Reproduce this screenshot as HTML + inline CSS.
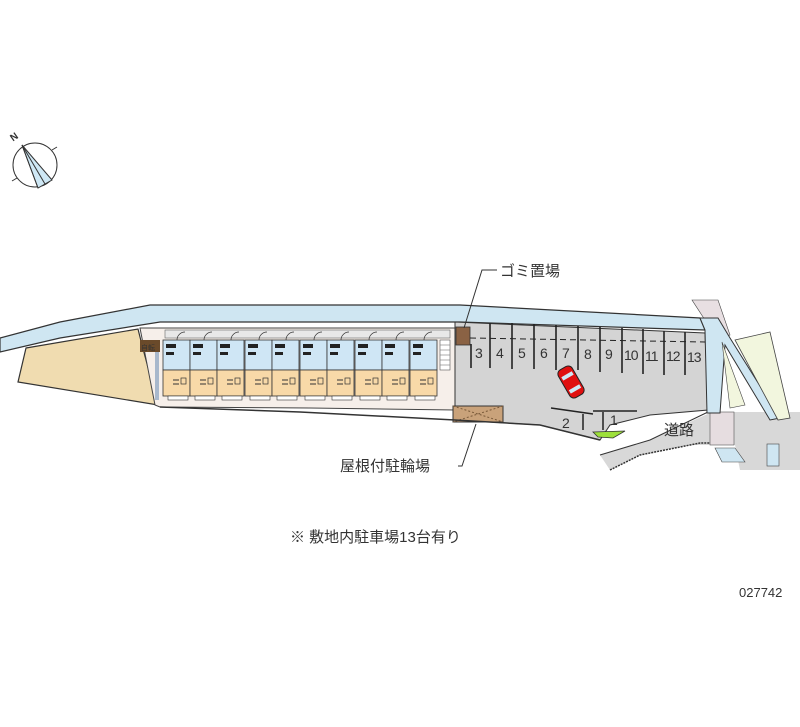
<!DOCTYPE html>
<html><head><meta charset="utf-8"><style>
html,body{margin:0;padding:0;background:#fff;}
svg{display:block;}
text{font-family:"Liberation Sans","Noto Sans CJK JP",sans-serif;fill:#333;}
</style></head><body>
<svg width="800" height="727" viewBox="0 0 800 727" xmlns="http://www.w3.org/2000/svg">
<!-- compass -->
<g stroke="#333" fill="none" stroke-width="1">
<circle cx="35" cy="165" r="22"/>
<polygon points="22,145 52,180 38,188" fill="#cfe8f5"/>
<line x1="22" y1="145" x2="38" y2="188"/>
<line x1="22" y1="145" x2="45" y2="184"/>
<line x1="12" y1="181" x2="17" y2="178"/><line x1="52" y1="150" x2="57" y2="147"/>
</g>
<text x="10" y="140" font-size="10" font-weight="bold" transform="rotate(-35 14 136)">N</text>

<!-- road (behind) -->
<polygon points="600,455 650,440 712,412 800,412 800,470 740,470 735,445 690,445 640,455 610,470" fill="#d8d8d8"/>

<!-- left canal -->
<polygon points="0,338 60,322 150,305 460,305 700,318 705,330 460,322 160,322 60,338 0,352" fill="#cfe6f2" stroke="#333" stroke-width="1.2"/>
<!-- sand area -->
<polygon points="26,348 138,329 142,345 158,405 18,382" fill="#f0dcb0" stroke="#333" stroke-width="1.2"/>
<!-- building plot -->
<polygon points="140,328 455,328 455,410 310,408 160,407 155,405" fill="#f6efea" stroke="#444"/>
<rect x="165" y="330" width="285" height="8" fill="#e8e8e8" stroke="#666" stroke-width="0.6"/>
<rect x="140" y="340" width="20" height="12" fill="#6a4a2a"/>
<text x="141" y="350" font-size="7" fill="#fff">自転</text>
<rect x="155" y="352" width="4" height="48" fill="#a8b8cc"/>
<!-- stairs -->
<rect x="440" y="340" width="10" height="30" fill="#fff" stroke="#555" stroke-width="0.6"/>
<g stroke="#777" stroke-width="0.6"><line x1="440" y1="345" x2="450" y2="345"/><line x1="440" y1="350" x2="450" y2="350"/><line x1="440" y1="355" x2="450" y2="355"/><line x1="440" y1="360" x2="450" y2="360"/><line x1="440" y1="365" x2="450" y2="365"/></g>

<!-- parking lot -->
<polygon points="455,322 705,333 708,410 650,415 610,425 600,440 540,425 455,420" fill="#d4d4d4" stroke="#333" stroke-width="1"/>
<rect x="456" y="327" width="14" height="18" fill="#8a6244" stroke="#333" stroke-width="0.8"/>
<g stroke="#222" stroke-width="1.6">
<line x1="471" y1="344" x2="471" y2="368"/>
<line x1="490" y1="323" x2="490" y2="368"/>
<line x1="512" y1="323" x2="512" y2="369"/>
<line x1="534" y1="324" x2="534" y2="369"/>
<line x1="556" y1="325" x2="556" y2="370"/>
<line x1="578" y1="326" x2="578" y2="370"/>
<line x1="600" y1="327" x2="600" y2="372"/>
<line x1="622" y1="328" x2="622" y2="373"/>
<line x1="643" y1="329" x2="643" y2="374"/>
<line x1="664" y1="331" x2="664" y2="375"/>
<line x1="685" y1="332" x2="685" y2="375"/>
</g>
<line x1="470" y1="338" x2="705" y2="342" stroke="#222" stroke-width="1" stroke-dasharray="6,4"/>
<g font-size="14">
<text x="475" y="358">3</text><text x="496" y="358">4</text><text x="518" y="358">5</text><text x="540" y="358">6</text><text x="562" y="358">7</text><text x="584" y="359">8</text><text x="605" y="359">9</text><text x="624" y="360" letter-spacing="-1">10</text><text x="645" y="361" letter-spacing="-1">11</text><text x="666" y="361" letter-spacing="-1">12</text><text x="687" y="362" letter-spacing="-1">13</text>
</g>
<!-- car -->
<g transform="rotate(-30 571 382)">
<rect x="563" y="366" width="16" height="32" rx="5" fill="#e01010" stroke="#222"/>
<rect x="565" y="373" width="12" height="4" fill="#cfe8f5"/>
<rect x="565" y="388" width="12" height="4" fill="#cfe8f5"/>
</g>
<!-- spots 1,2 -->
<g stroke="#222" stroke-width="1.5">
<line x1="551" y1="408" x2="593" y2="414"/>
<line x1="593" y1="411" x2="637" y2="411"/>
<line x1="583" y1="414" x2="583" y2="430"/>
<line x1="603" y1="412" x2="603" y2="430"/>
</g>
<text x="562" y="428" font-size="14">2</text>
<text x="610" y="425" font-size="14">1</text>
<polygon points="593,432 625,431 613,438 598,437" fill="#9de03a" stroke="#333" stroke-width="0.8"/>
<!-- bike shelter -->
<rect x="453" y="406" width="50" height="16" fill="#c9a27a" stroke="#333"/>
<line x1="453" y1="406" x2="503" y2="422" stroke="#7a5a3a" stroke-dasharray="2,2"/>
<line x1="503" y1="406" x2="453" y2="422" stroke="#7a5a3a" stroke-dasharray="2,2"/>
<!-- lower edge line -->
<polyline points="160,407 300,412 455,420 540,425 600,440" fill="none" stroke="#333" stroke-width="1.5"/>

<!-- road edges -->
<polyline points="610,470 640,455 700,443 712,443" fill="none" stroke="#333" stroke-width="1.5" stroke-dasharray="2,1"/>
<polyline points="600,455 650,440 708,412" fill="none" stroke="#333"/>
<rect x="710" y="412" width="24" height="33" fill="#e6dde0" stroke="#555" stroke-width="0.6"/>
<text x="664" y="435" font-size="15">道路</text>
<!-- right canal & paths -->
<polygon points="692,300 718,300 730,335 718,340" fill="#e8dfe2" stroke="#444" stroke-width="0.6"/>
<polygon points="700,318 718,318 730,338 780,418 770,420 725,345 720,413 707,413 705,330" fill="#cfe6f2" stroke="#333" stroke-width="1"/>
<polygon points="722,342 745,405 730,408" fill="#f2f6de" stroke="#444" stroke-width="0.6"/>
<polygon points="735,340 770,332 790,418 778,420" fill="#f2f6de" stroke="#444" stroke-width="0.8"/>
<polygon points="715,448 735,448 745,462 722,462" fill="#cfe6f2" stroke="#444" stroke-width="0.6"/>
<rect x="767" y="444" width="12" height="22" fill="#cfe6f2" stroke="#444" stroke-width="0.6"/>

<!-- labels -->
<polyline points="497,270 482,270 464,328" fill="none" stroke="#333"/>
<text x="500" y="276" font-size="15">ゴミ置場</text>
<polyline points="458,466 462,466 476,424" fill="none" stroke="#333"/>
<text x="340" y="471" font-size="15">屋根付駐輪場</text>
<text x="290" y="542" font-size="15">※ 敷地内駐車場13台有り</text>
<text x="739" y="597" font-size="13">027742</text>

<g>
<defs>
<g id="u">
<rect x="0" y="340" width="27" height="30" fill="#cfe6f5" stroke="#333" stroke-width="0.8"/>
<rect x="0" y="370" width="27" height="26" fill="#f8d9a8" stroke="#333" stroke-width="0.8"/>
<rect x="3" y="344" width="10" height="4" fill="#222"/>
<rect x="3" y="352" width="8" height="3" fill="#222"/>
<path d="M14 340 a8 8 0 0 1 8 -8" fill="none" stroke="#333" stroke-width="0.7"/>
<line x1="10" y1="380" x2="16" y2="380" stroke="#333"/>
<line x1="10" y1="384" x2="16" y2="384" stroke="#333"/>
<rect x="18" y="378" width="5" height="6" fill="none" stroke="#333" stroke-width="0.7"/>
<rect x="5" y="396" width="20" height="4" fill="#fff" stroke="#333" stroke-width="0.6"/>
</g>
</defs>
<use href="#u" x="163"/><use href="#u" x="190"/><use href="#u" x="217"/><use href="#u" x="245"/><use href="#u" x="272"/><use href="#u" x="300"/><use href="#u" x="327"/><use href="#u" x="355"/><use href="#u" x="382"/><use href="#u" x="410"/>
</g>
</svg>
</body></html>
